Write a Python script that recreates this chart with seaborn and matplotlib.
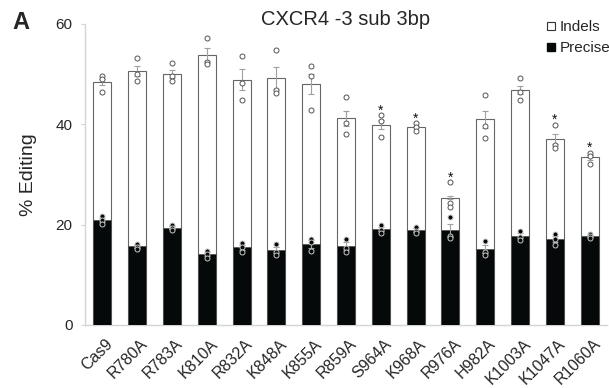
import numpy as np
import pandas as pd
import matplotlib
matplotlib.use("Agg")
import matplotlib.pyplot as plt
from matplotlib.lines import Line2D
from matplotlib.transforms import ScaledTranslation
import seaborn as sns

categories = ["Cas9", "R780A", "R783A", "K810A", "R832A", "K848A", "K855A", "R859A",
              "S964A", "K968A", "R976A", "H982A", "K1003A", "K1047A", "R1060A"]

# total editing (% Indels + Precise), three replicates
total_rep1 = [49.6, 53.1, 52.1, 57.1, 53.5, 54.8, 51.6, 45.4, 41.8, 40.2, 28.5, 45.8, 49.1, 39.9, 34.3]
total_rep2 = [49.0, 50.0, 49.5, 52.4, 48.1, 46.8, 49.6, 40.1, 40.5, 39.4, 24.2, 39.7, 46.3, 35.9, 33.7]
total_rep3 = [46.4, 48.5, 48.5, 51.9, 44.7, 46.1, 42.7, 38.0, 37.4, 38.7, 23.4, 37.2, 44.8, 35.2, 32.1]

# precise editing, three replicates
precise_rep1 = [21.6, 16.2, 19.9, 14.8, 16.3, 16.1, 17.1, 17.1, 20.0, 19.5, 21.5, 16.7, 18.7, 18.2, 18.1]
precise_rep2 = [20.8, 15.6, 19.3, 14.1, 15.6, 14.6, 16.5, 15.4, 18.9, 18.8, 17.8, 14.6, 17.6, 17.2, 17.7]
precise_rep3 = [20.1, 15.2, 18.9, 13.4, 14.6, 14.0, 14.7, 14.6, 18.4, 18.4, 17.3, 14.0, 17.0, 16.0, 17.4]

starred = ["S964A", "K968A", "R976A", "K1047A", "R1060A"]

title = "CXCR4 -3 sub 3bp"
ylabel = "% Editing"
yticks = [0, 20, 40, 60]

# ---- long-form table ----
rows = []
for r, (tr, pr) in enumerate(zip([total_rep1, total_rep2, total_rep3],
                                 [precise_rep1, precise_rep2, precise_rep3])):
    for c, t, p in zip(categories, tr, pr):
        rows.append({"category": c, "rep": r, "total": t, "precise": p, "indels": t - p})
df = pd.DataFrame(rows)
g = df.groupby("category", sort=False)
summary = pd.DataFrame({
    "total": g["total"].mean(),
    "precise": g["precise"].mean(),
    "indels_se": g["indels"].sem(),
    "precise_se": g["precise"].sem(),
    "max_total": g["total"].max(),
}).reindex(categories).reset_index()

sns.set_style("white")
plt.rcParams["font.family"] = ["Liberation Sans", "DejaVu Sans"]

fig = plt.figure(figsize=(6.09, 3.88), dpi=100)
ax = fig.add_axes([85 / 609, 1 - 325 / 388, 522 / 609, (325 - 23.5) / 388])

bw = 0.52
sns.barplot(data=summary, x="category", y="total", order=categories, color="white",
            edgecolor="#666666", linewidth=0.8, width=bw, errorbar=None, ax=ax, zorder=2)
sns.barplot(data=summary, x="category", y="precise", order=categories, color="#050909",
            edgecolor="#555555", linewidth=0.6, width=bw, errorbar=None, ax=ax, zorder=3,
            saturation=1)

xpos = np.arange(len(categories))
ax.errorbar(xpos, summary["total"], yerr=summary["indels_se"], fmt="none",
            ecolor="#a0a0a0", elinewidth=0.8, capsize=2, capthick=0.8, zorder=4)
ax.errorbar(xpos, summary["precise"], yerr=summary["precise_se"], fmt="none",
            ecolor="#a0a0a0", elinewidth=0.8, capsize=2, capthick=0.8, zorder=4)

sns.stripplot(data=df, x="category", y="total", order=categories, jitter=False,
              color="white", edgecolor="#555555", linewidth=0.7, size=3.6, ax=ax, zorder=5)
sns.stripplot(data=df, x="category", y="precise", order=categories, jitter=False,
              color="#050909", edgecolor="#c8c8c8", linewidth=0.7, size=3.6, ax=ax, zorder=5)

for i, c in enumerate(categories):
    if c in starred:
        ax.text(i, summary.loc[i, "max_total"] + 0.1, "*", ha="center", va="baseline",
                fontsize=10, color="#111111", zorder=6)

ax.set_xlim(-0.5, len(categories) - 0.5)
ax.set_ylim(0, 60)
ax.set_yticks(yticks)
ax.set_yticklabels([str(v) for v in yticks])
ax.set_xlabel("")
ax.set_ylabel(ylabel, fontsize=14, labelpad=13)
ax.set_title(title, fontsize=14.5, pad=-1)

for s in ["top", "right"]:
    ax.spines[s].set_visible(False)
for s in ["left", "bottom"]:
    ax.spines[s].set_color("#d4d4d4")
    ax.spines[s].set_linewidth(1.0)
ax.tick_params(axis="y", length=3, color="#d4d4d4", labelsize=11, pad=6, left=True)
ax.tick_params(axis="x", length=0, labelsize=11.5, pad=8)
offset = ScaledTranslation(3 / 100, 0, fig.dpi_scale_trans)
for lab in ax.get_xticklabels():
    lab.set_rotation(45)
    lab.set_ha("right")
    lab.set_rotation_mode("anchor")
    lab.set_transform(lab.get_transform() + offset)

handles = [
    Line2D([], [], marker="s", linestyle="none", markerfacecolor="white",
           markeredgecolor="#333333", markeredgewidth=0.8, markersize=5.5),
    Line2D([], [], marker="s", linestyle="none", markerfacecolor="#050909",
           markeredgecolor="#050909", markersize=5.5),
]
fig.legend(handles, ["Indels", "Precise"], loc="upper right",
           bbox_to_anchor=(610 / 609, 1 - 20 / 388), frameon=False, fontsize=11,
           handlelength=0.6, handletextpad=0.25, labelspacing=0.45, borderpad=0,
           borderaxespad=0)

fig.text(12 / 609, 1 - 29 / 388, "A", fontsize=17, fontweight="bold", va="baseline")

fig.savefig("out.png", dpi=100)
